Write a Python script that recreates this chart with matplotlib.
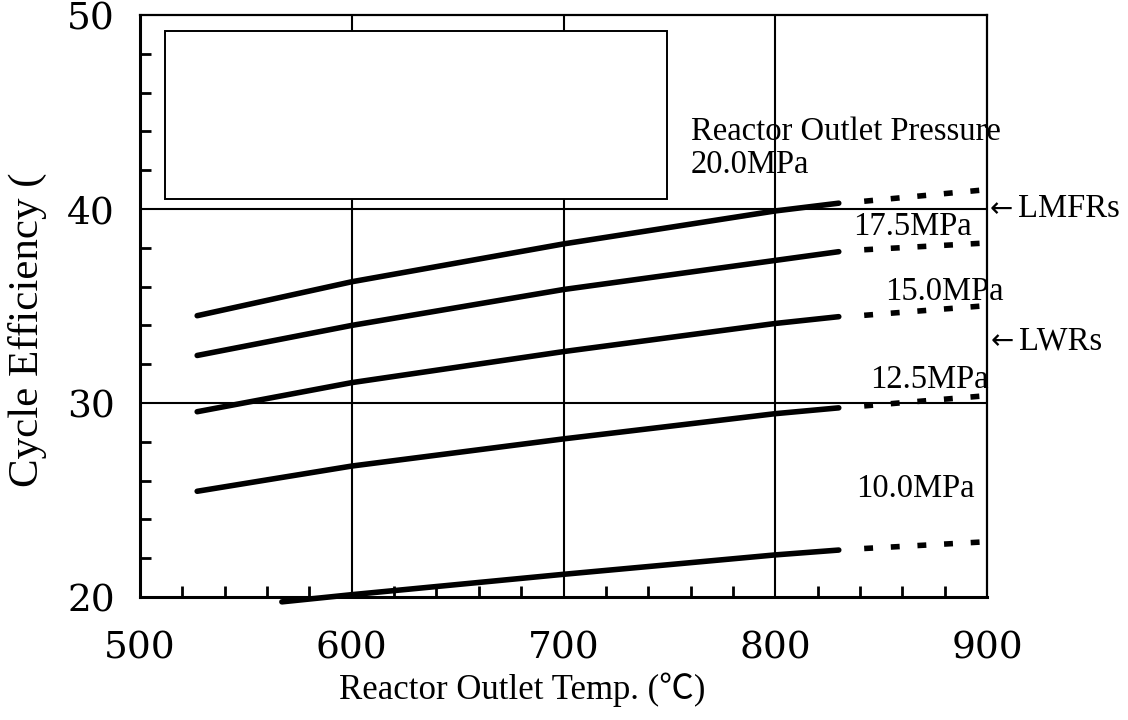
import matplotlib
matplotlib.use('Agg')
import matplotlib.pyplot as plt
from matplotlib.patches import Rectangle

# values
temp_solid = [527, 600, 700, 800, 830]
temp_solid_10 = [567, 600, 700, 800, 830]
temp_dotted = [842, 900]

eff_200 = [34.5, 36.25, 38.2, 39.9, 40.3]
eff_175 = [32.45, 34.0, 35.85, 37.35, 37.8]
eff_150 = [29.55, 31.05, 32.65, 34.1, 34.45]
eff_125 = [25.45, 26.75, 28.15, 29.45, 29.75]
eff_100 = [19.75, 20.12, 21.17, 22.17, 22.42]

dot_200 = [40.4, 41.0]
dot_175 = [37.9, 38.25]
dot_150 = [34.52, 35.02]
dot_125 = [29.85, 30.38]
dot_100 = [22.5, 22.85]

pressure_labels = ["20.0MPa", "17.5MPa", "15.0MPa", "12.5MPa", "10.0MPa"]
label_pos = [(760, 42.3), (837, 39.1), (852, 35.75), (845, 31.2), (838, 25.6)]

x_ticks = [500, 600, 700, 800, 900]
y_ticks = [20, 30, 40, 50]

SERIF = ['Liberation Serif', 'DejaVu Serif']
LW = 4.0
ANN_SIZE = 23.5

fig = plt.figure(figsize=(11.28, 7.2), dpi=100)
ax = fig.add_axes([140 / 1128, 123 / 720, 847 / 1128, 582 / 720])
ax.set_xlim(500, 900)
ax.set_ylim(20, 50)

# grid lines drawn as plain lines
for xv in [600, 700, 800]:
    ax.axvline(xv, color='black', linewidth=1.5, zorder=1)
for yv in [30, 40]:
    ax.axhline(yv, color='black', linewidth=1.5, zorder=1)

# empty legend box
ax.add_patch(Rectangle((512, 40.5), 237, 8.7, facecolor='white',
                       edgecolor='black', linewidth=1.4, zorder=2))

series = [
    (temp_solid, eff_200, dot_200),
    (temp_solid, eff_175, dot_175),
    (temp_solid, eff_150, dot_150),
    (temp_solid, eff_125, dot_125),
    (temp_solid_10, eff_100, dot_100),
]
for xs, ys, dots in series:
    ax.plot(xs, ys, color='black', linewidth=LW, solid_capstyle='round',
            zorder=3, clip_on=False)
    ax.plot(temp_dotted, dots, color='black', linewidth=LW,
            linestyle=(0, (1.6, 3.2)), dash_capstyle='butt', zorder=3,
            clip_on=False)

ax.text(760, 44.0, "Reactor Outlet Pressure", fontsize=ANN_SIZE, family=SERIF,
        ha='left', va='center')
for name, (tx, ty) in zip(pressure_labels, label_pos):
    ax.text(tx, ty, name, fontsize=ANN_SIZE, family=SERIF, ha='left', va='center')

# reactor type markers outside the right edge
ax.text(901.3, 40.0, "←", fontsize=20, family='DejaVu Sans', ha='left', va='center')
ax.text(914.5, 40.0, "LMFRs", fontsize=ANN_SIZE, family=SERIF, ha='left', va='center')
ax.text(901.8, 33.2, "←", fontsize=20, family='DejaVu Sans', ha='left', va='center')
ax.text(915.0, 33.2, "LWRs", fontsize=ANN_SIZE, family=SERIF, ha='left', va='center')

# ticks
ax.set_xticks(x_ticks)
ax.set_yticks(y_ticks)
ax.set_xticks(range(520, 900, 20), minor=True)
ax.set_yticks(range(22, 50, 2), minor=True)
ax.tick_params(axis='x', which='major', length=0, pad=24, labelsize=27)
ax.tick_params(axis='y', which='major', length=0, pad=18, labelsize=27)
ax.tick_params(which='minor', direction='in', length=8, width=2)
for lab in ax.get_xticklabels() + ax.get_yticklabels():
    lab.set_family('DejaVu Serif')

for side in ['left', 'bottom']:
    ax.spines[side].set_linewidth(2.2)
for side in ['top', 'right']:
    ax.spines[side].set_linewidth(1.6)

fig.text(522 / 1128, 30 / 720, "Reactor Outlet Temp. (℃)", fontsize=25,
         family=['Liberation Serif', 'Noto Sans CJK JP'], ha='center', va='center')
fig.text(27 / 1128, (720 - 330) / 720, "Cycle Efficiency (", fontsize=31,
         family=SERIF, rotation=90, ha='center', va='center')

fig.savefig('out.png', dpi=100)
plt.close(fig)
